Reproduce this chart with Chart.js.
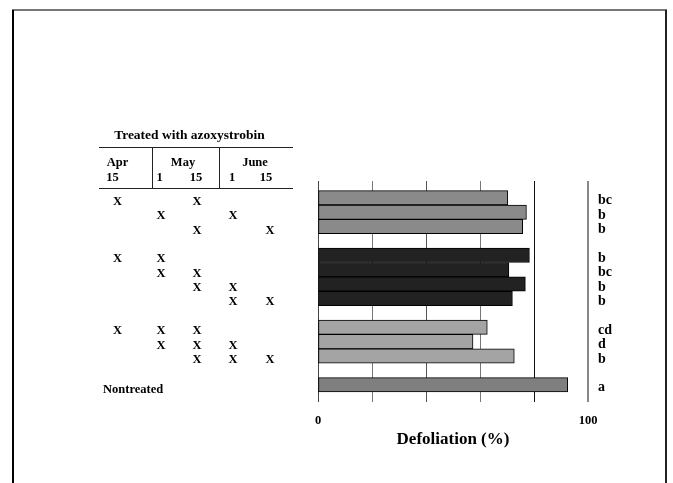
<!DOCTYPE html>
<html>
<head>
<meta charset="utf-8">
<title>Defoliation</title>
<script src="https://cdn.jsdelivr.net/npm/chart.js@4.4.1/dist/chart.umd.min.js"></script>
<style>
  html, body { margin: 0; padding: 0; background: #fff; }
  canvas { display: block; }
</style>
</head>
<body>
<canvas id="defolChart" width="673" height="483"></canvas>
<script>
// --- DATA ---
// row position of each treatment (gaps between spray groups are empty rows)
const rowPos = [0, 1, 2, 4, 5, 6, 7, 9, 10, 11, 13];
const defoliation = [70.3, 77.2, 75.8, 78.3, 70.7, 76.8, 72.0, 62.7, 57.4, 72.7, 92.5];
const letters = ['bc', 'b', 'b', 'b', 'bc', 'b', 'b', 'cd', 'd', 'b', 'a'];
const xTickLabels = { 0: '0', 100: '100' };

// spray dates: Apr 15, May 1, May 15, June 1, June 15
const monthLabels = ['Apr', 'May', 'June'];
const dateLabels = ['15', '1', '15', '1', '15'];
const schedule = [
    [1, 0, 1, 0, 0],
    [0, 1, 0, 1, 0],
    [0, 0, 1, 0, 1],
    [1, 1, 0, 0, 0],
    [0, 1, 1, 0, 0],
    [0, 0, 1, 1, 0],
    [0, 0, 0, 1, 1],
    [1, 1, 1, 0, 0],
    [0, 1, 1, 1, 0],
    [0, 0, 1, 1, 1]
];
const nontreatedLabel = 'Nontreated';
const tableTitle = 'Treated with azoxystrobin';

// --- STYLE ---
const FONT = "'Liberation Serif', 'Times New Roman', serif";
const barColors = ['#8a8a8a', '#8a8a8a', '#8a8a8a',
                   '#222222', '#222222', '#222222', '#222222',
                   '#a4a4a4', '#a4a4a4', '#a4a4a4',
                   '#7f7f7f'];
const gridColors = ['#444', '#777', '#555', '#777', '#111', '#888'];
const gridWidths = [1, 1, 1, 1, 1, 2];

// table layout (left side)
const colX = [117.5, 161, 197, 233, 270];
const monthX = [117.5, 183, 255];
const subX = [112.5, 159.5, 196, 232, 266];

// --- 1. TABLE + FRAME PLUGIN ---
const tablePlugin = {
    id: 'sprayTable',
    afterDraw(chart) {
        const c = chart.ctx;
        const y = chart.scales.y;
        c.save();

        // page frame
        c.lineWidth = 2;
        c.strokeStyle = '#777';
        c.beginPath(); c.moveTo(12, 10); c.lineTo(667, 10); c.stroke();
        c.strokeStyle = '#000';
        c.beginPath(); c.moveTo(13, 10); c.lineTo(13, 483); c.stroke();
        c.strokeStyle = '#222';
        c.beginPath(); c.moveTo(666, 10); c.lineTo(666, 483); c.stroke();

        // header lines
        c.lineWidth = 1;
        c.strokeStyle = '#222';
        c.beginPath();
        c.moveTo(99, 147.5); c.lineTo(293, 147.5);
        c.moveTo(99, 188.5); c.lineTo(293, 188.5);
        c.moveTo(152.5, 147.5); c.lineTo(152.5, 188.5);
        c.moveTo(219.5, 147.5); c.lineTo(219.5, 188.5);
        c.stroke();

        c.fillStyle = '#000';
        c.textBaseline = 'alphabetic';
        c.textAlign = 'center';
        c.font = 'bold 13.5px ' + FONT;
        c.fillText(tableTitle, 189.5, 138.5);

        c.font = 'bold 12.5px ' + FONT;
        monthLabels.forEach((m, i) => c.fillText(m, monthX[i], 166));
        dateLabels.forEach((d, i) => c.fillText(d, subX[i], 181));

        // X marks, one row per bar
        schedule.forEach((row, r) => {
            const py = y.getPixelForValue(rowPos[r]) + 7;
            row.forEach((on, k) => { if (on) c.fillText('X', colX[k], py); });
        });

        c.textAlign = 'left';
        c.fillText(nontreatedLabel, 103, y.getPixelForValue(rowPos[rowPos.length - 1]) + 8);
        c.restore();
    }
};

// --- 2. CHART ---
const ctx = document.getElementById('defolChart').getContext('2d');
const rowTicks = s => { s.ticks = rowPos.map(v => ({ value: v })); };

new Chart(ctx, {
    type: 'bar',
    data: {
        datasets: [{
            data: rowPos.map((r, i) => ({ x: defoliation[i], y: r })),
            backgroundColor: barColors,
            borderColor: '#000',
            borderWidth: 1,
            borderSkipped: false,
            categoryPercentage: 1,
            barPercentage: 1
        }]
    },
    options: {
        indexAxis: 'y',
        responsive: false,
        animation: false,
        layout: { padding: { left: 318, right: 45, top: 181, bottom: 33.5 } },
        plugins: { legend: { display: false }, tooltip: { enabled: false } },
        scales: {
            x: {
                type: 'linear', min: 0, max: 100,
                afterFit: s => { s.height = 47.5; },
                ticks: {
                    stepSize: 20, padding: 11, autoSkip: false, maxRotation: 0,
                    color: '#000', font: { family: FONT, size: 12.5, weight: 'bold' },
                    callback: v => xTickLabels[v] || ''
                },
                grid: {
                    drawTicks: false,
                    color: c => gridColors[c.index] || '#555',
                    lineWidth: c => gridWidths[c.index] || 1
                },
                border: { display: false },
                title: {
                    display: true, text: 'Defoliation (%)', color: '#000',
                    font: { family: FONT, size: 17, weight: 'bold' },
                    padding: { top: 0, bottom: 0 }
                }
            },
            y: {
                type: 'linear', min: -1.17, max: 14.2, reverse: true, offset: false,
                display: false,
                afterBuildTicks: rowTicks
            },
            y2: {
                type: 'linear', position: 'right', min: -1.17, max: 14.2, reverse: true, offset: false,
                afterBuildTicks: rowTicks,
                afterFit: s => { s.width = 40; },
                grid: { display: false, drawTicks: false },
                border: { display: false },
                ticks: {
                    padding: 10, labelOffset: 3, autoSkip: false, color: '#000',
                    font: { family: FONT, size: 14, weight: 'bold' },
                    callback: (v, i) => letters[i]
                }
            }
        }
    },
    plugins: [tablePlugin]
});
</script>
</body>
</html>
